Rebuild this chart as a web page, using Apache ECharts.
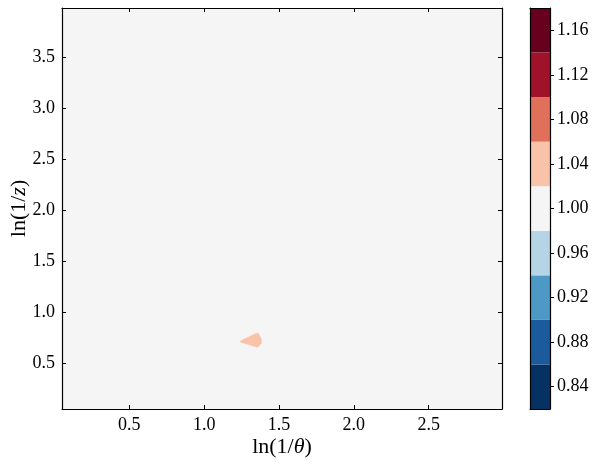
<!DOCTYPE html>
<html>
<head>
<meta charset="utf-8">
<script src="https://cdn.jsdelivr.net/npm/echarts@6/dist/echarts.min.js"></script>
<style>html,body{margin:0;padding:0;background:#fff}#c{width:598px;height:465px}</style>
</head>
<body>
<div id="c"></div>
<script>
// ---- data ----
var xRange = [0.05, 2.99];          // ln(1/theta) extent
var yRange = [0.05, 3.98];          // ln(1/z) extent
var xTicks = [0.5, 1.0, 1.5, 2.0, 2.5];
var yTicks = [0.5, 1.0, 1.5, 2.0, 2.5, 3.0, 3.5];
var levels = [0.82, 0.86, 0.90, 0.94, 0.98, 1.02, 1.06, 1.10, 1.14, 1.18];
var cbTicks = [0.84, 0.88, 0.92, 0.96, 1.00, 1.04, 1.08, 1.12, 1.16];
var bandColors = ['#063263', '#1b5a9b', '#4c99c6', '#b5d5e7', '#f5f5f5', '#f9c3a9', '#e0705a', '#a01229', '#67001f'];
// background region: whole domain at level band 0.98-1.02
var fieldX = [0.05, 2.99, 2.99, 0.05];
var fieldY = [0.05, 0.05, 3.98, 3.98];
var fieldBand = 4;
// small contour island at band 1.02-1.06
var blobX = [1.244, 1.349, 1.364, 1.382, 1.382, 1.359, 1.344, 1.244];
var blobY = [0.718, 0.792, 0.789, 0.734, 0.695, 0.656, 0.660, 0.705];
var blobBand = 5;

var polygons = [
  {xs: fieldX, ys: fieldY, band: fieldBand},
  {xs: blobX, ys: blobY, band: blobBand}
];

var FONT = 'Liberation Serif';
var chart = echarts.init(document.getElementById('c'), null, {renderer: 'canvas'});

function fmt1(v){ return Number(v).toFixed(1); }
function fmt2(v){ return Number(v).toFixed(2); }

var axisLineStyle = {color: '#000', width: 1.2};

chart.setOption({
  animation: false,
  backgroundColor: '#fff',
  grid: [
    {left: 62, top: 8, width: 440, height: 401, outerBoundsMode: 'none', containLabel: false},
    {left: 530, top: 8, width: 20, height: 401, outerBoundsMode: 'none', containLabel: false}
  ],
  xAxis: [
    {
      type: 'value', gridIndex: 0, min: xRange[0], max: xRange[1], position: 'bottom', z: 10,
      splitLine: {show: false},
      axisLine: {show: true, onZero: false, lineStyle: axisLineStyle},
      axisTick: {show: true, inside: true, length: 4, customValues: xTicks, lineStyle: {color: '#000', width: 1}},
      axisLabel: {show: true, customValues: xTicks, formatter: fmt1, margin: 7, color: '#000', fontFamily: FONT, fontSize: 18},
      name: '{a|ln(1/}{b|θ}{a|)}', nameLocation: 'middle', nameGap: 27, nameMoveOverlap: false,
      nameTextStyle: {rich: {a: {fontFamily: FONT, fontSize: 22, color: '#000'}, b: {fontFamily: FONT, fontSize: 22, fontStyle: 'italic', color: '#000'}}}
    },
    {
      type: 'value', gridIndex: 0, min: xRange[0], max: xRange[1], position: 'top', z: 10,
      splitLine: {show: false},
      axisLine: {show: true, onZero: false, lineStyle: axisLineStyle},
      axisTick: {show: true, inside: true, length: 4, customValues: xTicks, lineStyle: {color: '#000', width: 1}},
      axisLabel: {show: false}
    },
    {
      type: 'value', gridIndex: 1, min: 0, max: 1, position: 'bottom', z: 10,
      splitLine: {show: false},
      axisLine: {show: true, onZero: false, lineStyle: axisLineStyle},
      axisTick: {show: false}, axisLabel: {show: false}
    },
    {
      type: 'value', gridIndex: 1, min: 0, max: 1, position: 'top', z: 10,
      splitLine: {show: false},
      axisLine: {show: true, onZero: false, lineStyle: axisLineStyle},
      axisTick: {show: false}, axisLabel: {show: false}
    }
  ],
  yAxis: [
    {
      type: 'value', gridIndex: 0, min: yRange[0], max: yRange[1], position: 'left', z: 10,
      splitLine: {show: false},
      axisLine: {show: true, onZero: false, lineStyle: axisLineStyle},
      axisTick: {show: true, inside: true, length: 4, customValues: yTicks, lineStyle: {color: '#000', width: 1}},
      axisLabel: {show: true, customValues: yTicks, formatter: fmt1, margin: 7, color: '#000', fontFamily: FONT, fontSize: 18},
      name: '{a|ln(1/}{b|z}{a|)}', nameLocation: 'middle', nameGap: 32, nameRotate: 90, nameMoveOverlap: false,
      nameTextStyle: {rich: {a: {fontFamily: FONT, fontSize: 22, color: '#000'}, b: {fontFamily: FONT, fontSize: 22, fontStyle: 'italic', color: '#000'}}}
    },
    {
      type: 'value', gridIndex: 0, min: yRange[0], max: yRange[1], position: 'right', z: 10,
      splitLine: {show: false},
      axisLine: {show: true, onZero: false, lineStyle: axisLineStyle},
      axisTick: {show: true, inside: true, length: 4, customValues: yTicks, lineStyle: {color: '#000', width: 1}},
      axisLabel: {show: false}
    },
    {
      type: 'value', gridIndex: 1, min: levels[0], max: levels[levels.length - 1], position: 'right', z: 10,
      splitLine: {show: false},
      axisLine: {show: true, onZero: false, lineStyle: axisLineStyle},
      axisTick: {show: true, inside: false, length: 4, customValues: cbTicks, lineStyle: {color: '#000', width: 1}},
      axisLabel: {show: true, customValues: cbTicks, formatter: fmt2, margin: 7, color: '#000', fontFamily: FONT, fontSize: 18}
    },
    {
      type: 'value', gridIndex: 1, min: levels[0], max: levels[levels.length - 1], position: 'left', z: 10,
      splitLine: {show: false},
      axisLine: {show: true, onZero: false, lineStyle: axisLineStyle},
      axisTick: {show: false}, axisLabel: {show: false}
    }
  ],
  series: [
    {
      type: 'custom', xAxisIndex: 0, yAxisIndex: 0, clip: true, z: 1,
      data: polygons.map(function(p, i){ return [i]; }),
      renderItem: function(params, api){
        var p = polygons[params.dataIndex];
        var pts = p.xs.map(function(x, k){ return api.coord([x, p.ys[k]]); });
        return {type: 'polygon', shape: {points: pts}, style: {fill: bandColors[p.band], stroke: bandColors[p.band], lineWidth: 0.5}};
      }
    },
    {
      type: 'custom', xAxisIndex: 2, yAxisIndex: 2, clip: true, z: 1,
      data: bandColors.map(function(c, i){ return [i]; }),
      renderItem: function(params, api){
        var i = params.dataIndex;
        var p0 = api.coord([0, levels[i]]);
        var p1 = api.coord([1, levels[i + 1]]);
        return {type: 'rect', shape: {x: p0[0], y: p1[1], width: p1[0] - p0[0], height: p0[1] - p1[1]}, style: {fill: bandColors[i]}};
      }
    }
  ]
});
</script>
</body>
</html>
